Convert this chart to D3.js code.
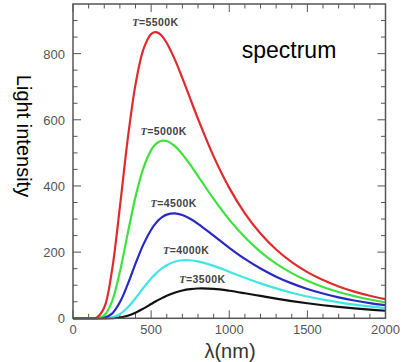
<!DOCTYPE html>
<html>
<head>
<meta charset="utf-8">
<script src="https://d3js.org/d3.v7.min.js"></script>
<style>
  body { margin: 0; background: #fff; }
  svg text { font-family: "Liberation Sans", Arial, sans-serif; }
</style>
</head>
<body>
<div id="grafico"></div>
<script>
// longitudes de onda (nm)
var wavelength = [0, 100, 150, 200, 250, 300, 350, 400, 450, 500, 525, 550, 575, 600, 650, 700, 750, 800,
  900, 1000, 1100, 1200, 1300, 1400, 1500, 1600, 1700, 1800, 1900, 2000];

// intensidades
var t5500 = [0, 0, 1.8, 32.6, 146.2, 336.0, 540.5, 706.4, 812.0, 859.5, 865.2, 861.4, 849.9, 832.2, 784.1, 726.0, 664.3, 602.9,
  489.5, 394.3, 317.3, 256.1, 207.8, 169.7, 139.5, 115.5, 96.2, 80.7, 68.2, 57.9];
var t5000 = [0, 0, 0.3, 8.8, 51.3, 140.5, 255.9, 367.0, 453.4, 508.2, 524.3, 533.7, 537.2, 535.7, 521.1, 495.8, 464.3, 430.0,
  360.8, 298.1, 244.8, 200.9, 165.3, 136.5, 113.3, 94.6, 79.4, 67.0, 56.9, 48.6];
var t4500 = [0, 0, 0, 1.8, 14.3, 48.4, 102.6, 165.0, 222.6, 267.7, 284.6, 297.7, 307.2, 313.3, 317.2, 312.1, 300.9, 285.7,
  249.7, 213.1, 179.5, 150.4, 125.9, 105.5, 88.6, 74.8, 63.3, 53.9, 46.1, 39.6];
var t4000 = [0, 0, 0, 0.2, 2.9, 12.8, 32.8, 60.7, 91.5, 120.3, 132.8, 143.7, 153.0, 160.6, 170.9, 175.5, 175.5, 172.1,
  158.5, 140.9, 122.7, 105.6, 90.3, 77.1, 65.8, 56.3, 48.3, 41.5, 35.8, 31.0];
var t3500 = [0, 0, 0, 0, 0.4, 2.3, 7.6, 16.8, 29.2, 43.0, 49.9, 56.4, 62.5, 68.1, 77.4, 84.0, 88.1, 90.0,
  88.8, 83.3, 75.8, 67.6, 59.5, 52.1, 45.4, 39.5, 34.4, 30.0, 26.2, 22.9];

// etiquetas y pico de cada curva
var labels = ["5500K", "5000K", "4500K", "4000K", "3500K"];
var peakNm = [527, 580, 644, 724, 828];
var colores = ["#e02a2e", "#3ee23e", "#2828c4", "#40e6e6", "#111111"];

var xTicks = [0, 500, 1000, 1500, 2000];
var yTicks = [0, 200, 400, 600, 800];

var series = [t5500, t5000, t4500, t4000, t3500];

var width = 403, height = 362;
var margin = { top: 4, right: 17.5, bottom: 43.7, left: 73 };

var svg = d3.select("#grafico").append("svg")
  .attr("width", width)
  .attr("height", height);

var x = d3.scaleLinear().domain([0, 2000]).range([margin.left, width - margin.right]);
var y = d3.scaleLinear().domain([0, 950]).range([height - margin.bottom, margin.top]);

// ticks hacia adentro en los cuatro lados
var frameColor = "#555";
function tickLines(values, len, orient) {
  values.forEach(function(v) {
    if (orient == "bottom" || orient == "top") {
      var y0 = orient == "bottom" ? y(0) : y(950);
      var dir = orient == "bottom" ? -1 : 1;
      svg.append("line")
        .attr("x1", x(v)).attr("x2", x(v))
        .attr("y1", y0).attr("y2", y0 + dir * len)
        .attr("stroke", frameColor).attr("stroke-width", 1);
    } else {
      var x0 = orient == "left" ? x(0) : x(2000);
      var d = orient == "left" ? 1 : -1;
      svg.append("line")
        .attr("x1", x0).attr("x2", x0 + d * len)
        .attr("y1", y(v)).attr("y2", y(v))
        .attr("stroke", frameColor).attr("stroke-width", 1);
    }
  });
}

var xMinor = d3.range(100, 2000, 100).filter(function(v) { return v % 500 != 0; });
var yMinor = d3.range(50, 950, 50).filter(function(v) { return v % 200 != 0; });
["bottom", "top"].forEach(function(o) {
  tickLines(xTicks, 8, o);
  tickLines(xMinor, 4.5, o);
});
["left", "right"].forEach(function(o) {
  tickLines(yTicks, 8, o);
  tickLines(yMinor, 4.5, o);
});

// curvas (la roja queda encima)
var line = d3.line()
  .x(function(d) { return x(d[0]); })
  .y(function(d) { return y(Math.max(0, d[1])); })
  .curve(d3.curveCatmullRom.alpha(0.5));

for (var i = series.length - 1; i >= 0; i--) {
  var pts = wavelength.map(function(w, j) { return [w, series[i][j]]; });
  svg.append("path")
    .datum(pts)
    .attr("d", line)
    .attr("fill", "none")
    .attr("stroke", colores[i])
    .attr("stroke-width", 2.2);
}

// marco
svg.append("rect")
  .attr("x", x(0)).attr("y", y(950))
  .attr("width", x(2000) - x(0))
  .attr("height", y(0) - y(950))
  .attr("fill", "none")
  .attr("stroke", frameColor)
  .attr("stroke-width", 1.5);

// etiquetas de temperatura sobre cada pico
labels.forEach(function(lab, i) {
  var t = svg.append("text")
    .attr("x", x(peakNm[i]))
    .attr("y", y(d3.max(series[i])) - 6)
    .attr("text-anchor", "middle")
    .attr("font-size", 10.5)
    .attr("font-weight", "bold")
    .attr("letter-spacing", 0.4)
    .attr("fill", "#444");
  t.append("tspan").attr("font-style", "italic").attr("font-family", "Liberation Serif, serif").text("T");
  t.append("tspan").text("=" + lab);
});

// etiquetas de ejes
svg.selectAll(".xlab")
  .data(xTicks)
  .enter()
  .append("text")
  .attr("x", function(d) { return x(d); })
  .attr("y", y(0) + 16)
  .attr("text-anchor", "middle")
  .attr("font-size", 13)
  .attr("fill", "#555")
  .text(function(d) { return d; });

svg.selectAll(".ylab")
  .data(yTicks)
  .enter()
  .append("text")
  .attr("x", x(0) - 8)
  .attr("y", function(d) { return y(d) + 5; })
  .attr("text-anchor", "end")
  .attr("font-size", 13)
  .attr("fill", "#555")
  .text(function(d) { return d; });

svg.append("text")
  .attr("x", 230)
  .attr("y", 358)
  .attr("text-anchor", "middle")
  .attr("font-size", 20)
  .attr("font-family", "Liberation Serif, serif")
  .attr("fill", "#333")
  .text("λ(nm)");

svg.append("text")
  .attr("transform", "translate(17,136) rotate(90)")
  .attr("text-anchor", "middle")
  .attr("font-size", 20)
  .attr("fill", "#000")
  .text("Light intensity");

svg.append("text")
  .attr("x", 289)
  .attr("y", 58)
  .attr("text-anchor", "middle")
  .attr("font-size", 23)
  .attr("fill", "#000")
  .text("spectrum");
</script>
</body>
</html>
